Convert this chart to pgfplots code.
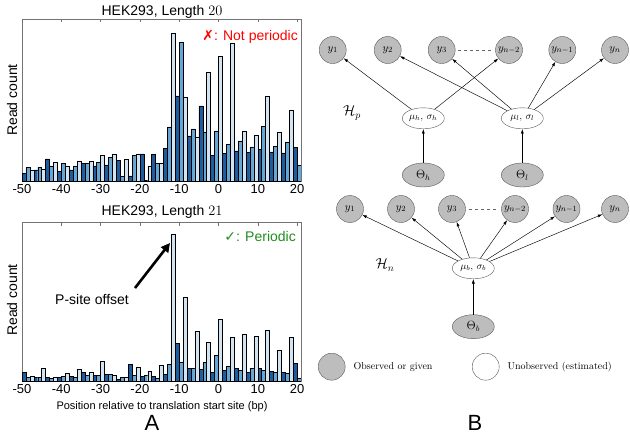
\documentclass[border=0pt]{standalone}
\usepackage{fontspec}
\usepackage{pgfplots}
\pgfplotsset{compat=1.18}
\usepackage{pgfplotstable}
\usetikzlibrary{shapes.geometric,arrows.meta}
\newfontfamily\hel{Liberation Sans}
\newfontfamily\sym{DejaVu Sans}
\definecolor{bdark}{HTML}{1D5C9E}
\definecolor{bmid}{HTML}{64A6D4}
\definecolor{blight}{HTML}{D2E3F2}
\definecolor{nodegray}{HTML}{BDBDBD}
\definecolor{okgreen}{HTML}{1E8C1E}

% read counts per position (k = offset from start site), arbitrary units
\pgfplotstableread{
k v
-50 23
-49 41
-48 33
-47 33
-46 41
-45 35
-44 66
-43 45
-42 55
-41 29
-40 53
-39 45
-38 33
-37 45
-36 58
-35 53
-34 53
-33 58
-32 45
-31 56
-30 77
-29 48
-28 71
-27 79
-26 62
-25 13
-24 65
-23 15
-22 76
-21 81
-20 81
-19 2
-18 45
-17 79
-16 53
-15 53
-14 98
-13 162
-12 443
-11 255
-10 415
-9 250
-8 135
-7 156
-6 131
-5 225
-4 147
-3 327
-2 76
-1 150
0 373
1 83
2 110
3 414
4 90
5 120
6 150
7 86
8 102
9 137
10 94
11 163
12 254
13 87
14 103
15 147
16 84
17 117
18 212
19 100
20 46
}\lentwenty

\pgfplotstableread{
k v
-50 27
-49 12
-48 15
-47 12
-46 12
-45 38
-44 12
-43 8
-42 12
-41 12
-40 15
-39 22
-38 15
-37 12
-36 35
-35 25
-34 16
-33 27
-32 17
-31 17
-30 59
-29 21
-28 20
-27 16
-26 5
-25 12
-24 12
-23 50
-22 17
-21 40
-20 15
-19 17
-18 29
-17 15
-16 8
-15 47
-14 21
-13 50
-12 441
-11 113
-10 55
-9 250
-8 38
-7 38
-6 150
-5 35
-4 57
-3 115
-2 26
-1 78
0 184
1 33
2 44
3 132
4 38
5 32
6 140
7 25
8 37
9 135
10 39
11 31
12 152
13 28
14 25
15 92
16 27
17 24
18 132
19 53
20 8
}\lentwentyone

\pgfplotsset{
  hek/.style={
    scale only axis, width=279pt, anchor=south west,
    xmin=-50, xmax=21, ymin=0,
    ybar, bar width=1, bar shift=0pt,
    axis line style={black!55},
    xtick={-50,-40,...,20},
    xticklabels={-50,-40,-30,-20,-10,0,10,20},
    ytick=\empty,
    tick align=inside, major tick length=3pt,
    tick style={black!55},
    xticklabel style={font=\hel\fontsize{13}{13}\selectfont},
  },
}

\begin{document}
\begin{tikzpicture}[x=1pt,y=-1pt]
\useasboundingbox (0,0) rectangle (630,436);

% ---- A, top: length 20
\begin{axis}[hek, at={(22pt,-181pt)}, height=161.7pt, ymax=485]
  \addplot[fill=bdark, draw=black, line width=0.4pt]
    table[x expr=\thisrow{k}+0.5, y=v, restrict expr to domain={mod(\thisrow{k}+50,3)}{-0.1:0.1}] {\lentwenty};
  \addplot[fill=bmid, draw=black, line width=0.4pt]
    table[x expr=\thisrow{k}+0.5, y=v, restrict expr to domain={mod(\thisrow{k}+50,3)}{0.9:1.1}] {\lentwenty};
  \addplot[fill=blight, draw=black, line width=0.4pt]
    table[x expr=\thisrow{k}+0.5, y=v, restrict expr to domain={mod(\thisrow{k}+50,3)}{1.9:2.1}] {\lentwenty};
\end{axis}

% ---- A, bottom: length 21
\begin{axis}[hek, at={(22pt,-381pt)}, height=158.3pt, ymax=475]
  \addplot[fill=bdark, draw=black, line width=0.4pt]
    table[x expr=\thisrow{k}+0.5, y=v, restrict expr to domain={mod(\thisrow{k}+50,3)}{-0.1:0.1}] {\lentwentyone};
  \addplot[fill=bmid, draw=black, line width=0.4pt]
    table[x expr=\thisrow{k}+0.5, y=v, restrict expr to domain={mod(\thisrow{k}+50,3)}{0.9:1.1}] {\lentwentyone};
  \addplot[fill=blight, draw=black, line width=0.4pt]
    table[x expr=\thisrow{k}+0.5, y=v, restrict expr to domain={mod(\thisrow{k}+50,3)}{1.9:2.1}] {\lentwentyone};
\end{axis}

% labels, panel A
\node[font=\hel\fontsize{14}{14}\selectfont] at (162,12) {HEK293, Length $20$};
\node[font=\hel\fontsize{14}{14}\selectfont] at (162,212) {HEK293, Length $21$};
\node[font=\hel\fontsize{14}{14}\selectfont, text=red, anchor=east, inner sep=0pt] at (298,37) {{\sym ✗}: Not periodic};
\node[font=\hel\fontsize{14}{14}\selectfont, text=okgreen, anchor=east, inner sep=0pt] at (296,236) {{\sym ✓}: Periodic};
\node[rotate=90, font=\hel\fontsize{14}{14}\selectfont] at (12,100) {Read count};
\node[rotate=90, font=\hel\fontsize{14}{14}\selectfont] at (12,300) {Read count};
\node[font=\hel\fontsize{11}{11}\selectfont] at (162,407) {Position relative to translation start site (bp)};
\node[font=\hel\fontsize{14}{14}\selectfont] at (92,299) {P-site offset};
\draw[line width=2.6pt, -{Triangle[length=9pt,width=9pt]}] (135,288) -- (170,243);
\node[font=\hel\fontsize{22}{22}\selectfont, anchor=base, inner sep=0pt] at (152,430) {A};
\node[font=\hel\fontsize{22}{22}\selectfont, anchor=base, inner sep=0pt] at (475,430) {B};

% ---- B: graphical models
\tikzset{
  obs/.style={circle, draw=black!65, fill=nodegray, minimum size=27pt, inner sep=0pt, font=\fontsize{10.95}{11}\selectfont},
  lat/.style={ellipse, draw=black!65, fill=white, minimum width=42pt, minimum height=21pt, inner sep=0pt, font=\fontsize{10}{10}\selectfont},
  par/.style={ellipse, draw=black!65, fill=nodegray, minimum width=42pt, minimum height=24pt, inner sep=0pt, font=\fontsize{12}{12}\selectfont},
  edge/.style={-{Latex[length=4.5pt,width=3pt]}, line width=0.45pt},
}
% H_p
\node[obs] (a1) at (332.7,50) {$y_1$};
\node[obs] (a2) at (387.7,50) {$y_2$};
\node[obs] (a3) at (441.7,50) {$y_3$};
\node[obs] (a4) at (509,50) {$y_{n-2}$};
\node[obs] (a5) at (562.3,50) {$y_{n-1}$};
\node[obs] (a6) at (615,50) {$y_n$};
\draw[dashed, black!60] (458,50) -- (491,50);
\node[lat] (muh) at (423.3,118.3) {$\mu_h,\,\sigma_h$};
\node[lat] (mul) at (522.3,118.3) {$\mu_l,\,\sigma_l$};
\node[par] (th) at (423.3,175) {$\Theta_h$};
\node[par] (tl) at (522.3,175) {$\Theta_l$};
\draw[edge] (th) -- (muh);
\draw[edge] (tl) -- (mul);
\draw[edge] (muh) -- (a1);
\draw[edge] (muh) -- (a4);
\draw[edge] (mul) -- (a2);
\draw[edge] (mul) -- (a3);
\draw[edge] (mul) -- (a5);
\draw[edge] (mul) -- (a6);
\node[font=\fontsize{14.4}{14.4}\selectfont] at (352,113) {$\mathcal{H}_p$};

% H_n
\node[obs] (b1) at (350,209) {$y_1$};
\node[obs] (b2) at (401,209) {$y_2$};
\node[obs] (b3) at (452,209) {$y_3$};
\node[obs] (b4) at (515,209) {$y_{n-2}$};
\node[obs] (b5) at (566.5,209) {$y_{n-1}$};
\node[obs] (b6) at (615,209) {$y_n$};
\draw[dashed, black!60] (469,209) -- (498,209);
\node[lat] (mub) at (473.3,268.3) {$\mu_b,\,\sigma_b$};
\node[par] (tb) at (473.3,326.7) {$\Theta_b$};
\draw[edge] (tb) -- (mub);
\foreach \n in {b1,b2,b3,b4,b5,b6} \draw[edge] (mub) -- (\n);
\node[font=\fontsize{14.4}{14.4}\selectfont] at (385,265) {$\mathcal{H}_n$};

% key
\node[obs] at (331.7,366.7) {};
\node[anchor=west, font=\fontsize{10}{10}\selectfont] at (350,366.7) {Observed or given};
\node[obs, fill=white] at (485.7,366.7) {};
\node[anchor=west, font=\fontsize{10}{10}\selectfont] at (504,366.7) {Unobserved (estimated)};
\end{tikzpicture}
\end{document}
